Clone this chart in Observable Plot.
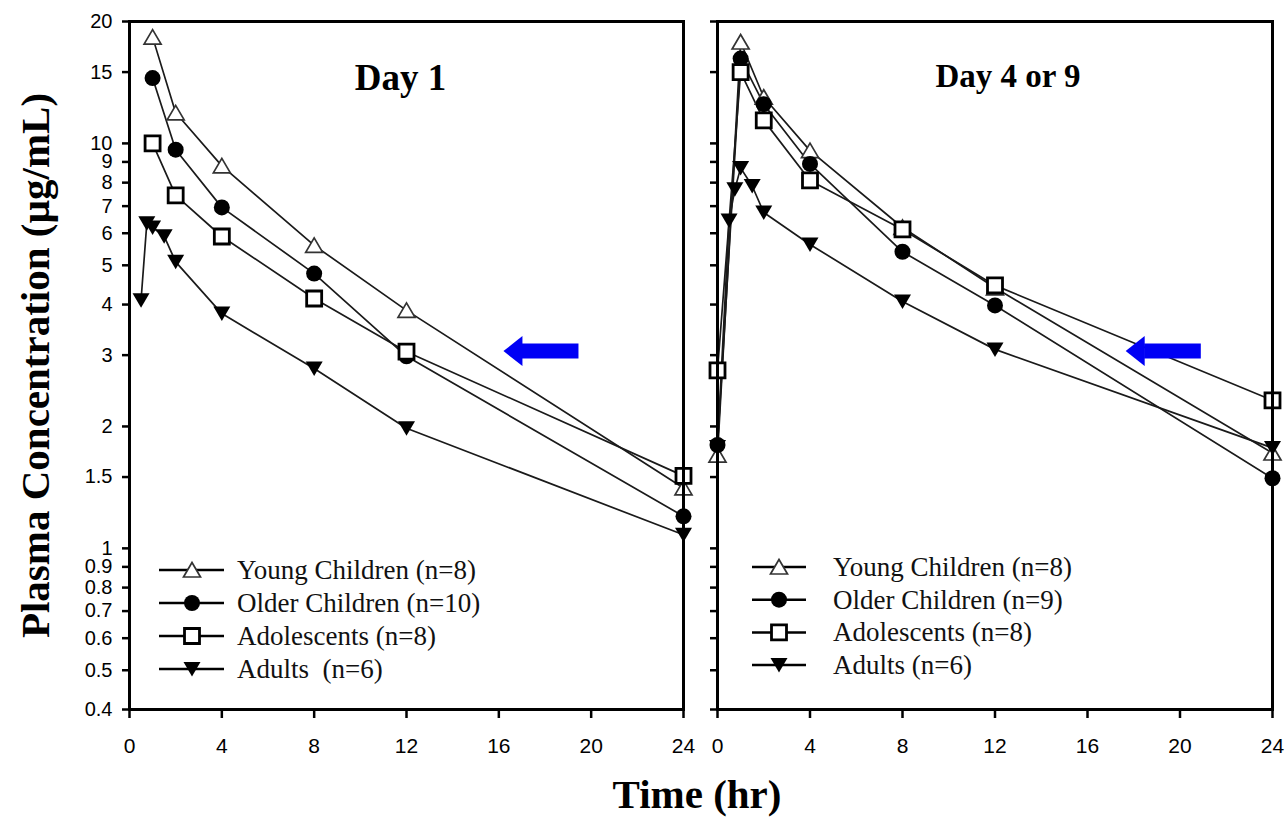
<!DOCTYPE html>
<html><head><meta charset="utf-8">
<script src="https://cdn.jsdelivr.net/npm/d3@7"></script>
<script src="https://cdn.jsdelivr.net/npm/@observablehq/plot@0.6"></script>
<style>
body{margin:0;background:#fff;}
#wrap{position:relative;width:1286px;height:817px;overflow:hidden;background:#fff;}
.panel{position:absolute;top:0;}
.panel svg{overflow:visible;}
#xtitle{position:absolute;left:0;width:1394px;top:774px;text-align:center;font:bold 41px "Liberation Serif",serif;color:#000;line-height:41px;}
#legend{position:absolute;left:0;top:0;pointer-events:none;}
</style></head><body>
<div id="wrap">
  <div id="left" class="panel" style="left:0"></div>
  <div id="right" class="panel" style="left:700px"></div>
  <div id="xtitle">Time (hr)</div>
</div>
<script>
// ---- data ----
const yTicks = [0.4,0.5,0.6,0.7,0.8,0.9,1,1.5,2,3,4,5,6,7,8,9,10,15,20];
const xTicks = [0,4,8,12,16,20,24];
const panelTitles = ["Day 1","Day 4 or 9"];
const legendDay1 = ["Young Children (n=8)","Older Children (n=10)","Adolescents (n=8)","Adults  (n=6)"];
const legendDay4 = ["Young Children (n=8)","Older Children (n=9)","Adolescents (n=8)","Adults (n=6)"];
const yTitle = "Plasma Concentration (\u00b5g/mL)";

const day1Time = [1,2,4,8,12,24];
const day1Young = [18.3,11.9,8.8,5.6,3.87,1.41];
const day1Older = [14.5,9.65,6.95,4.77,2.98,1.20];
const day1Adol = [10.0,7.44,5.89,4.14,3.06,1.51];
const day1AdultTime = [0.5,0.75,1,1.5,2,4,8,12,24];
const day1Adult = [4.1,6.35,6.2,5.9,5.1,3.8,2.78,1.98,1.08];

const day4Time = [0,1,2,4,8,12,24];
const day4Young = [1.7,17.8,13.0,9.6,6.2,4.4,1.72];
const day4Older = [1.8,16.2,12.5,8.9,5.4,3.98,1.49];
const day4Adol = [2.75,15.0,11.4,8.1,6.13,4.46,2.32];
const day4AdultTime = [0,0.5,0.75,1,1.5,2,4,8,12,24];
const day4Adult = [1.78,6.45,7.7,8.7,7.85,6.75,5.63,4.07,3.10,1.77];

const arrowDay1 = [{base:17.0, tail:19.45, y:3.07}];
const arrowDay4 = [{base:18.45, tail:20.9, y:3.07}];

// ---- symbols ----
const triUp = {draw(c){c.moveTo(0,-7.5);c.lineTo(8.5,7);c.lineTo(-8.5,7);c.closePath();}};
const triDown = {draw(c){c.moveTo(-8.5,-7);c.lineTo(8.5,-7);c.lineTo(0,7.5);c.closePath();}};
const sq = {draw(c){c.moveTo(-7.5,-7.5);c.lineTo(7.5,-7.5);c.lineTo(7.5,7.5);c.lineTo(-7.5,7.5);c.closePath();}};
const circ = {draw(c){c.moveTo(8,0);c.arc(0,0,8,0,2*Math.PI);}};
const head = {draw(c){c.moveTo(0.5,-15);c.lineTo(0.5,15);c.lineTo(-18.5,0);c.closePath();}};

const styles = [
  {symbol:triUp, fill:"#fff", stroke:"#333", strokeWidth:1.7},
  {symbol:circ, fill:"#000", stroke:"none"},
  {symbol:sq, fill:"#fff", stroke:"#000", strokeWidth:2.8},
  {symbol:triDown, fill:"#000", stroke:"none"}
];

const rows = (t, v) => t.map((x,i)=>({t:x, c:v[i]}));

function panel({series, arrow, title, titleDx, titleSize, width, mL, mR, labels}) {
  const marks = [
    labels
      ? Plot.axisY(yTicks, {tickSize:7, tickPadding:10, strokeWidth:2.5, tickFormat:d=>String(d), fontSize:20, fontFamily:"Liberation Sans", label:null})
      : Plot.axisY(yTicks, {tickSize:7, strokeWidth:2.5, tickFormat:()=>"", label:null}),
    Plot.axisX(xTicks, {tickSize:9, tickPadding:20, strokeWidth:2.5, fontSize:21, fontFamily:"Liberation Sans", label:null}),
  ];
  series.forEach(s => marks.push(Plot.line(s, {x:"t", y:"c", stroke:"#1a1a1a", strokeWidth:1.7})));
  series.forEach((s,i) => marks.push(Plot.dot(s, {x:"t", y:"c", ...styles[i]})));
  marks.push(Plot.link(arrow, {x1:"base", x2:"tail", y1:"y", y2:"y", stroke:"#0000f5", strokeWidth:15, strokeLinecap:"butt"}));
  marks.push(Plot.dot(arrow, {x:"base", y:"y", symbol:head, fill:"#0000f5", stroke:"none"}));
  marks.push(Plot.frame({stroke:"#000", strokeWidth:3}));
  marks.push(Plot.text([title], {frameAnchor:"top", lineAnchor:"top", textAnchor:"middle", dy:42, dx:titleDx, fontSize:titleSize, fontWeight:"bold", fontFamily:"Liberation Serif", fill:"#000"}));
  if (labels) marks.push(Plot.text([yTitle], {frameAnchor:"left", rotate:-90, dx:-94, textAnchor:"middle", lineAnchor:"middle", fontSize:41, fontWeight:"bold", fontFamily:"Liberation Serif", fill:"#000"}));
  return Plot.plot({
    width, height:817, marginLeft:mL, marginRight:mR, marginTop:21, marginBottom:108,
    x:{domain:[0,24]}, y:{type:"log", domain:[0.4,20]},
    style:{background:"transparent", color:"#000", overflow:"visible"},
    marks
  });
}

document.getElementById("left").appendChild(panel({
  series:[rows(day1Time,day1Young), rows(day1Time,day1Older), rows(day1Time,day1Adol), rows(day1AdultTime,day1Adult)],
  arrow:arrowDay1, title:panelTitles[0], titleDx:-6, titleSize:37, width:700, mL:129, mR:17, labels:true
}));
document.getElementById("right").appendChild(panel({
  series:[rows(day4Time,day4Young), rows(day4Time,day4Older), rows(day4Time,day4Adol), rows(day4AdultTime,day4Adult)],
  arrow:arrowDay4, title:panelTitles[1], titleDx:13, titleSize:33, width:586, mL:17, mR:14, labels:false
}));

// ---- legends (overlay) ----
const leg = d3.select("#wrap").append("svg").attr("id","legend").attr("width",1286).attr("height",817);
const legendBoxes = [
  {labels:legendDay1, x1:159, x2:224, xm:192, xt:237, y0:570, dy:33},
  {labels:legendDay4, x1:752, x2:806, xm:779, xt:833, y0:567, dy:32.7}
];
legendBoxes.forEach(b => {
  b.labels.forEach((lab,i) => {
    const y = b.y0 + i*b.dy;
    leg.append("line").attr("x1",b.x1).attr("x2",b.x2).attr("y1",y).attr("y2",y).attr("stroke","#000").attr("stroke-width",2.5);
    const st = styles[i];
    const p = d3.path(); st.symbol.draw(p);
    leg.append("path").attr("d",p.toString()).attr("transform",`translate(${b.xm},${y})`)
      .attr("fill",st.fill).attr("stroke",st.stroke).attr("stroke-width",st.strokeWidth||0);
    leg.append("text").attr("x",b.xt).attr("y",y+9).attr("font-family","Liberation Serif").attr("font-size",27)
      .attr("fill","#111").style("white-space","pre").text(lab);
  });
});
</script>
</body></html>
